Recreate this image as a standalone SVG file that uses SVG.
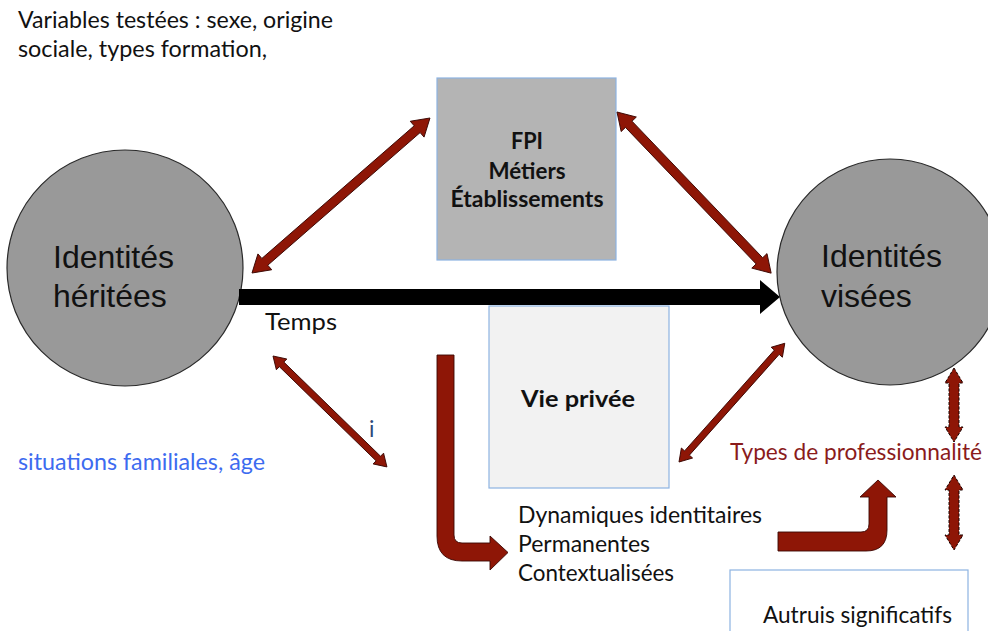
<svg xmlns="http://www.w3.org/2000/svg" width="988" height="631" viewBox="0 0 988 631">
  <style>
    .body { font-family: Lato, "Liberation Sans", sans-serif; font-size: 22.5px; fill: #111; }
    .bold { font-family: Lato, "Liberation Sans", sans-serif; font-size: 23px; font-weight: bold; fill: #111; text-anchor: middle; }
    .big { font-family: "Liberation Sans", Arial, sans-serif; font-size: 32px; fill: #111; }
    .circle { fill: #999999; stroke: #2a2a2a; stroke-width: 1.2; }
    .red { fill: #8e1606; stroke: #3b0703; stroke-width: 0.9; }
    .redDash { fill: #8e1606; stroke: #1a0200; stroke-width: 1; stroke-dasharray: 3 1.5; }
    .black { fill: #000; }
  </style>

  <rect width="988" height="631" fill="#fff"/>

  <!-- free labels -->
  <g id="labels">
    <text class="body" x="18" y="28" textLength="315" lengthAdjust="spacingAndGlyphs">Variables testées : sexe, origine</text>
    <text class="body" x="18" y="57" textLength="249" lengthAdjust="spacingAndGlyphs">sociale, types formation,</text>
    <text class="body" x="265" y="330" textLength="72" lengthAdjust="spacingAndGlyphs">Temps</text>
    <text class="body" x="18" y="470" textLength="247" lengthAdjust="spacingAndGlyphs" style="fill:#3d6bf0">situations familiales, âge</text>
    <text class="body" x="369" y="437" style="fill:#2c4a7a">i</text>
    <text class="body" x="518" y="523" textLength="244" lengthAdjust="spacingAndGlyphs">Dynamiques identitaires</text>
    <text class="body" x="518" y="552" textLength="132" lengthAdjust="spacingAndGlyphs">Permanentes</text>
    <text class="body" x="518" y="581" textLength="156" lengthAdjust="spacingAndGlyphs">Contextualisées</text>
    <text class="body" x="730" y="460" textLength="252" lengthAdjust="spacingAndGlyphs" style="fill:#8a1b1b">Types de professionnalité</text>
  </g>

  <!-- nodes -->
  <g id="identites-heritees">
    <circle class="circle" cx="125" cy="268" r="118"/>
    <text class="big" x="53" y="268">Identités</text>
    <text class="big" x="53" y="307">héritées</text>
  </g>

  <g id="identites-visees">
    <circle class="circle" cx="890" cy="272" r="113"/>
    <text class="big" x="821" y="267">Identités</text>
    <text class="big" x="821" y="307">visées</text>
  </g>

  <g id="fpi">
    <rect x="437" y="78" width="179" height="182" fill="#b4b4b4" stroke="#8db3e2" stroke-width="1.2"/>
    <text class="bold" x="527" y="149" textLength="32" lengthAdjust="spacingAndGlyphs">FPI</text>
    <text class="bold" x="527" y="179" textLength="77" lengthAdjust="spacingAndGlyphs">Métiers</text>
    <text class="bold" x="527" y="207" textLength="153" lengthAdjust="spacingAndGlyphs">Établissements</text>
  </g>

  <g id="vie-privee">
    <rect x="489" y="306" width="180" height="182" fill="#f2f2f2" stroke="#8db3e2" stroke-width="1.2"/>
    <text class="bold" x="578" y="407" textLength="114" lengthAdjust="spacingAndGlyphs">Vie privée</text>
  </g>

  <g id="autruis">
    <rect x="730" y="570" width="238" height="80" fill="#fff" stroke="#8db3e2" stroke-width="1.2"/>
    <text class="body" x="763" y="623" textLength="189" lengthAdjust="spacingAndGlyphs">Autruis significatifs</text>
  </g>

  <!-- connectors -->
  <g id="connectors">
    <!-- time axis -->
    <path class="black" d="M239,289 L760,289 L760,280 L780,297 L760,314 L760,305 L239,305 Z"/>

    <!-- double-headed links -->
    <path class="red" transform="translate(252,273) rotate(-41.05)" d="M0,0 L17,-10.5 L17,-4.5 L219,-4.5 L219,-10.5 L236,0 L219,10.5 L219,4.5 L17,4.5 L17,10.5 Z"/>
    <path class="red" transform="translate(617,112) rotate(46.27)" d="M0,0 L17,-10.5 L17,-4.5 L206,-4.5 L206,-10.5 L223,0 L206,10.5 L206,4.5 L17,4.5 L17,10.5 Z"/>
    <path class="red" transform="translate(273,356) rotate(44.23)" d="M0,0 L12,-7.5 L12,-3.2 L147,-3.2 L147,-7.5 L159,0 L147,7.5 L147,3.2 L12,3.2 L12,7.5 Z"/>
    <path class="red" transform="translate(679,462) rotate(-48.3)" d="M0,0 L12,-7.5 L12,-3.2 L147,-3.2 L147,-7.5 L159,0 L147,7.5 L147,3.2 L12,3.2 L12,7.5 Z"/>
    <path class="redDash" transform="translate(954,368) rotate(90)" d="M0,0 L15,-9 L15,-5 L59,-5 L59,-9 L74,0 L59,9 L59,5 L15,5 L15,9 Z"/>
    <path class="redDash" transform="translate(954,475) rotate(90)" d="M0,0 L15,-9 L15,-5 L60,-5 L60,-9 L75,0 L60,9 L60,5 L15,5 L15,9 Z"/>

    <!-- bent arrows -->
    <path class="red" d="M437,355 L454,355 L454,535 Q454,543 462,543 L490,543 L490,536 L508,552.5 L490,570 L490,561 L462,561 Q437,561 437,536 Z"/>
    <path class="red" d="M778,532 L861,532 Q869,532 869,524 L869,497 L860,497 L878,480 L896,497 L887,497 L887,530 Q887,551 866,551 L778,551 Z"/>
  </g>
</svg>
